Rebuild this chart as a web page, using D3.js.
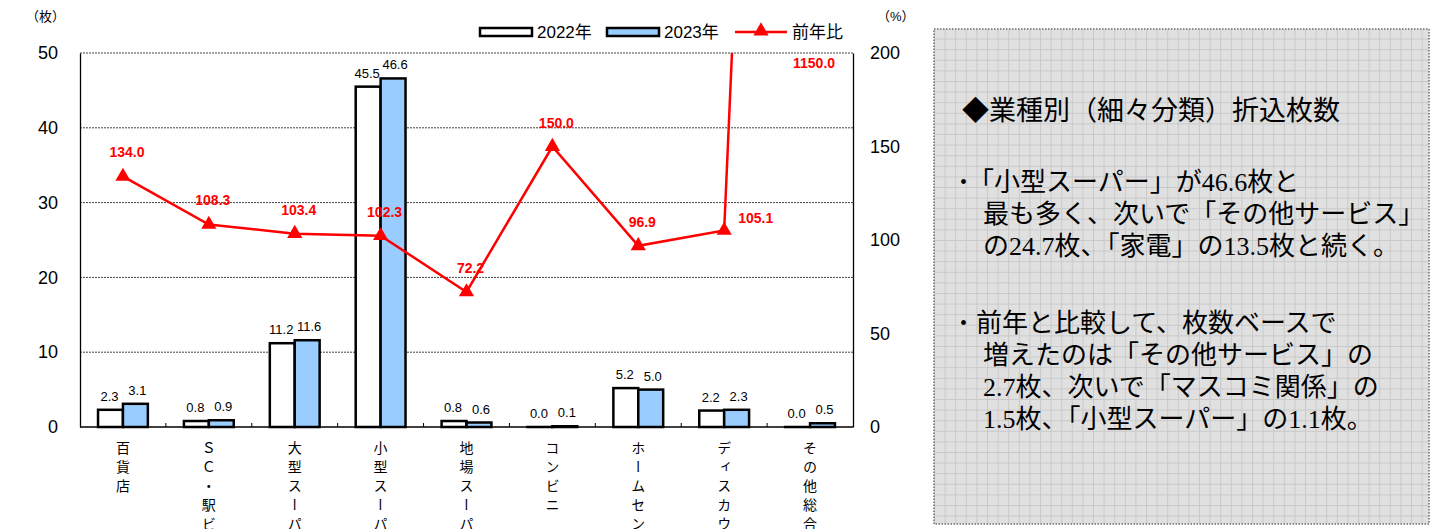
<!DOCTYPE html>
<html>
<head>
<meta charset="utf-8">
<script src="https://cdn.jsdelivr.net/npm/d3@7"></script>
<style>
  body { margin: 0; background: #fff; }
  svg { display: block; }
</style>
</head>
<body>
<div id="chart"></div>
<script>
const categories = ["百貨店", "ＳＣ・駅ビル", "大型スーパー", "小型スーパー", "地場スーパー", "コンビニ", "ホームセンター", "ディスカウント", "その他総合"];
const values2022 = [2.3, 0.8, 11.2, 45.5, 0.8, 0.0, 5.2, 2.2, 0.0];
const values2023 = [3.1, 0.9, 11.6, 46.6, 0.6, 0.1, 5.0, 2.3, 0.5];
const ratio = [134.0, 108.3, 103.4, 102.3, 72.2, 150.0, 96.9, 105.1, 1150.0];
const leftTicks = [0, 10, 20, 30, 40, 50];
const rightTicks = [0, 50, 100, 150, 200];
const seriesNames = ["2022年", "2023年", "前年比"];
const titleText = "◆業種別（細々分類）折込枚数";
const bullet1 = ["「小型スーパー」が46.6枚と", "最も多く、次いで「その他サービス」", "の24.7枚、「家電」の13.5枚と続く。"];
const bullet2 = ["前年と比較して、枚数ベースで", "増えたのは「その他サービス」の", "2.7枚、次いで「マスコミ関係」の", "1.5枚、「小型スーパー」の1.1枚。"];

const width = 1438, height = 529;
const plot = { left: 80, right: 853, top: 53, bottom: 427 };
const sans = "'Liberation Sans', Arial, 'Noto Sans CJK JP', sans-serif";
const serif = "'Liberation Serif', 'Noto Sans CJK JP', serif";
const blue = "#99ccff";
const red = "#ff0000";

const svg = d3.select("#chart").append("svg")
    .attr("width", width)
    .attr("height", height)
    .attr("viewBox", `0 0 ${width} ${height}`);

// scales
const xScale = d3.scaleBand()
    .domain(categories)
    .range([plot.left, plot.right]);
const yLeft = d3.scaleLinear().domain([0, 50]).range([plot.bottom, plot.top]);
const yRight = d3.scaleLinear().domain([0, 200]).range([plot.bottom, plot.top]);
const barW = xScale.bandwidth() * 0.29;
const cx = d => xScale(d) + xScale.bandwidth() / 2;

// gridlines
svg.append("g")
    .selectAll("line")
    .data(leftTicks.filter(d => d > 0))
    .join("line")
    .attr("x1", plot.left).attr("x2", plot.right)
    .attr("y1", d => yLeft(d)).attr("y2", d => yLeft(d))
    .attr("stroke", "#444")
    .attr("stroke-width", 1)
    .attr("stroke-dasharray", "2,1");

// left axis
const leftAxis = svg.append("g")
    .attr("transform", `translate(${plot.left},0)`)
    .call(d3.axisLeft(yLeft).tickValues(leftTicks).tickSize(0).tickPadding(22));
leftAxis.select(".domain").attr("stroke", "#000").attr("stroke-width", 1.3);
leftAxis.selectAll("text").attr("font-family", sans).attr("font-size", 18).attr("fill", "#000");

// right axis
const rightAxis = svg.append("g")
    .attr("transform", `translate(${plot.right},0)`)
    .call(d3.axisRight(yRight).tickValues(rightTicks).tickSize(0).tickPadding(17));
rightAxis.select(".domain").attr("stroke", "#000").attr("stroke-width", 1.3);
rightAxis.selectAll("text").attr("font-family", sans).attr("font-size", 18).attr("fill", "#000");

// bottom line + small inner ticks between categories
svg.append("line")
    .attr("x1", plot.left).attr("x2", plot.right)
    .attr("y1", plot.bottom).attr("y2", plot.bottom)
    .attr("stroke", "#000").attr("stroke-width", 1.3);
svg.append("g")
    .selectAll("line")
    .data(categories.slice(1))
    .join("line")
    .attr("x1", d => xScale(d)).attr("x2", d => xScale(d))
    .attr("y1", plot.bottom).attr("y2", plot.bottom - 4)
    .attr("stroke", "#000").attr("stroke-width", 1);

// axis unit labels
svg.append("text").text("（枚）")
    .attr("x", 26).attr("y", 21)
    .attr("font-family", sans).attr("font-size", 13);
svg.append("text").text("（%）")
    .attr("x", 877).attr("y", 21)
    .attr("font-family", sans).attr("font-size", 13);

// bars (zero-height bars still show their outline)
const barH = d => Math.max(plot.bottom - yLeft(d), 0.01);
const bars = svg.append("g");
bars.selectAll(".b22")
    .data(values2022)
    .join("rect")
    .attr("class", "b22")
    .attr("x", (d, i) => cx(categories[i]) - barW)
    .attr("y", d => plot.bottom - barH(d))
    .attr("width", barW)
    .attr("height", barH)
    .attr("fill", "#fff")
    .attr("stroke", "#000")
    .attr("stroke-width", 2.5);
bars.selectAll(".b23")
    .data(values2023)
    .join("rect")
    .attr("class", "b23")
    .attr("x", (d, i) => cx(categories[i]))
    .attr("y", d => plot.bottom - barH(d))
    .attr("width", barW)
    .attr("height", barH)
    .attr("fill", blue)
    .attr("stroke", "#000")
    .attr("stroke-width", 2.5);

// bar value labels
const labels = svg.append("g")
    .attr("font-family", sans)
    .attr("font-size", 13)
    .attr("text-anchor", "middle")
    .attr("fill", "#000");
labels.selectAll(".l22")
    .data(values2022)
    .join("text")
    .attr("x", (d, i) => cx(categories[i]) - barW / 2 - 1)
    .attr("y", d => yLeft(d) - 9)
    .text(d => d.toFixed(1));
labels.selectAll(".l23")
    .data(values2023)
    .join("text")
    .attr("x", (d, i) => cx(categories[i]) + barW / 2 + 2)
    .attr("y", d => yLeft(d) - 9)
    .text(d => d.toFixed(1));

// ratio line, clipped to the plot area
svg.append("clipPath").attr("id", "plot-clip")
    .append("rect")
    .attr("x", plot.left).attr("y", plot.top)
    .attr("width", plot.right - plot.left)
    .attr("height", plot.bottom - plot.top);

const line = d3.line()
    .x((d, i) => cx(categories[i]))
    .y(d => yRight(d));

const lineG = svg.append("g").attr("clip-path", "url(#plot-clip)");
lineG.append("path")
    .attr("d", line(ratio))
    .attr("fill", "none")
    .attr("stroke", red)
    .attr("stroke-width", 2.5);
lineG.selectAll("path.marker")
    .data(ratio)
    .join("path")
    .attr("class", "marker")
    .attr("d", d3.symbol(d3.symbolTriangle, 100))
    .attr("transform", (d, i) => `translate(${cx(categories[i])},${yRight(d)})`)
    .attr("fill", red);

// ratio labels
const beforeJump = i => i < ratio.length - 1 && ratio[i + 1] > 200;
svg.append("g")
    .attr("font-family", sans)
    .attr("font-size", 14)
    .attr("font-weight", "bold")
    .attr("fill", red)
    .selectAll("text")
    .data(ratio)
    .join("text")
    .attr("text-anchor", (d, i) => beforeJump(i) ? "start" : "middle")
    .attr("x", (d, i) => beforeJump(i) ? cx(categories[i]) + 14 : cx(categories[i]) + 4)
    .attr("y", (d, i) => {
        if (d > 200) return plot.top + 15;
        if (beforeJump(i)) return yRight(d) - 7;
        return yRight(d) - 19;
    })
    .text(d => d.toFixed(1));

// category labels (vertical)
svg.append("g")
    .selectAll("text")
    .data(categories)
    .join("text")
    .attr("x", d => cx(d))
    .attr("y", 441)
    .style("writing-mode", "vertical-rl")
    .style("letter-spacing", "5px")
    .attr("font-family", "'Noto Sans CJK JP', sans-serif")
    .attr("font-size", 14)
    .text(d => d);

// legend
const legend = svg.append("g").attr("font-family", sans).attr("font-size", 17);
legend.append("rect").attr("x", 480).attr("y", 28).attr("width", 52).attr("height", 8)
    .attr("fill", "#fff").attr("stroke", "#000").attr("stroke-width", 2.5);
legend.append("text").attr("x", 537).attr("y", 38).text(seriesNames[0]);
legend.append("rect").attr("x", 607).attr("y", 28).attr("width", 52).attr("height", 8)
    .attr("fill", blue).attr("stroke", "#000").attr("stroke-width", 2.5);
legend.append("text").attr("x", 664).attr("y", 38).text(seriesNames[1]);
legend.append("line").attr("x1", 735).attr("x2", 787).attr("y1", 32).attr("y2", 32)
    .attr("stroke", red).attr("stroke-width", 2.5);
legend.append("path").attr("d", d3.symbol(d3.symbolTriangle, 100))
    .attr("transform", "translate(761,31)").attr("fill", red);
legend.append("text").attr("x", 792).attr("y", 38).text(seriesNames[2]);

// comment panel
const defs = svg.append("defs");
const pat = defs.append("pattern")
    .attr("id", "grid")
    .attr("width", 10.6).attr("height", 10.6)
    .attr("patternUnits", "userSpaceOnUse")
    .attr("x", 934).attr("y", 28);
pat.append("rect").attr("width", 10.6).attr("height", 10.6).attr("fill", "#e0e0e0");
pat.append("path").attr("d", "M0 0.5 H10.6 M0.5 0 V10.6")
    .attr("stroke", "#c9c9c9").attr("stroke-width", 1);

svg.append("rect")
    .attr("x", 934).attr("y", 29)
    .attr("width", 495).attr("height", 495)
    .attr("fill", "url(#grid)")
    .attr("stroke", "#8c8c8c")
    .attr("stroke-width", 2)
    .attr("stroke-dasharray", "1.5,1.5");

const panel = svg.append("g")
    .attr("font-family", serif)
    .attr("fill", "#000")
    .attr("dominant-baseline", "central");
panel.append("text").attr("x", 962).attr("y", 111).attr("font-size", 27).text(titleText);

const drawBullet = (lines, y0, firstX) => {
    panel.append("text").attr("x", 960).attr("y", y0).attr("font-size", 20).text("•");
    panel.selectAll(null)
        .data(lines)
        .join("text")
        .attr("x", (d, i) => i === 0 ? firstX : 983)
        .attr("y", (d, i) => y0 + i * 32)
        .attr("font-size", 26)
        .text(d => d);
};
drawBullet(bullet1, 182, 968);
drawBullet(bullet2, 323, 976);
</script>
</body>
</html>
